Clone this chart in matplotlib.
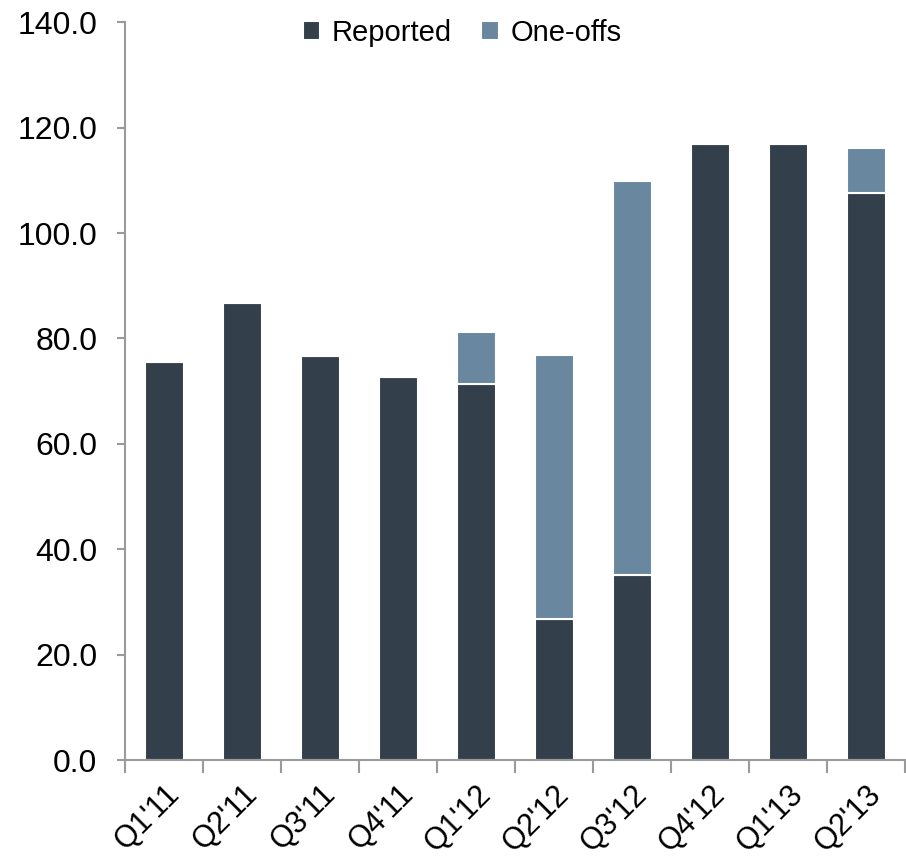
import matplotlib
matplotlib.use("Agg")
import matplotlib.pyplot as plt

DARK = '#333f4a'
LIGHT = '#6a87a0'
AXIS = '#9a9a9a'

quarters = ["Q1'11", "Q2'11", "Q3'11", "Q4'11", "Q1'12",
            "Q2'12", "Q3'12", "Q4'12", "Q1'13", "Q2'13"]
reported = [75.5, 86.7, 76.7, 72.7, 71.3, 26.8, 35.1, 116.9, 116.9, 107.6]
one_offs = [0.0, 0.0, 0.0, 0.0, 9.9, 50.0, 74.8, 0.0, 0.0, 8.5]

plt.rcParams['font.family'] = ['Liberation Sans', 'DejaVu Sans']

fig = plt.figure(figsize=(9.06, 8.56), dpi=100)
ax = fig.add_axes([0.138, 0.112, 0.861, 0.862])

x = range(len(quarters))
ax.bar(x, reported, width=0.5, color=DARK, edgecolor='white',
       linewidth=1.5, label='Reported')
ax.bar(x, one_offs, width=0.5, bottom=reported, color=LIGHT,
       edgecolor='white', linewidth=1.5, label='One-offs')

ax.set_xlim(-0.5, len(quarters) - 0.5)
ax.set_ylim(0, 140)
ax.set_yticks(range(0, 141, 20))
ax.set_yticklabels(['%.1f' % v for v in range(0, 141, 20)], fontsize=23)

# ticks sit between categories, labels under bars
ax.set_xticks([i - 0.5 for i in range(len(quarters) + 1)])
ax.set_xticklabels([])
ax.set_xticks(list(x), minor=True)
ax.set_xticklabels(quarters, minor=True, rotation=45, ha='right',
                   rotation_mode='anchor', fontsize=22)
ax.tick_params(axis='x', which='minor', length=0, pad=14)
ax.tick_params(axis='x', which='major', length=9, color=AXIS, width=1.5)
ax.tick_params(axis='y', length=6, color=AXIS, width=1.5, pad=14)

for side in ['top', 'right']:
    ax.spines[side].set_visible(False)
for side in ['left', 'bottom']:
    ax.spines[side].set_color(AXIS)
    ax.spines[side].set_linewidth(1.5)

ax.legend(loc='upper center', bbox_to_anchor=(0.432, 1.04), ncol=2,
          frameon=False, fontsize=21, handlelength=0.6, handleheight=0.6,
          handletextpad=0.4, columnspacing=1.0)

fig.savefig('out.png', dpi=100)
